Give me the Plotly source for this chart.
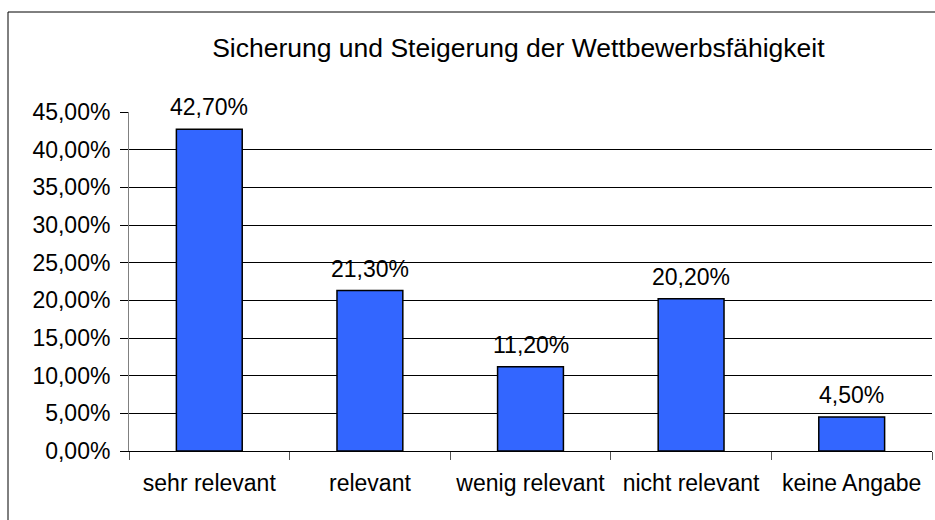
import plotly.graph_objects as go

categories = ["sehr relevant", "relevant", "wenig relevant", "nicht relevant", "keine Angabe"]
values = [42.7, 21.3, 11.2, 20.2, 4.5]
value_labels = ["42,70%", "21,30%", "11,20%", "20,20%", "4,50%"]
y_tickvals = [0, 5, 10, 15, 20, 25, 30, 35, 40, 45]
y_ticktext = ["0,00%", "5,00%", "10,00%", "15,00%", "20,00%", "25,00%", "30,00%", "35,00%", "40,00%", "45,00%"]
title_text = "Sicherung und Steigerung der Wettbewerbsfähigkeit"

W, H = 935, 520
L, R, T, B = 129, 3, 112, 69
pw, ph = W - L - R, H - T - B

font = "Liberation Sans, Arial, sans-serif"
fs = 23

fig = go.Figure()
fig.add_trace(go.Bar(
    x=categories, y=values,
    marker=dict(color="#3366FF", line=dict(color="black", width=1.5)),
    cliponaxis=False,
))

for c, v, t in zip(categories, values, value_labels):
    fig.add_annotation(x=c, y=v, text=t, showarrow=False, xref="x", yref="y",
                       yanchor="middle", yshift=22,
                       font=dict(family=font, size=fs, color="black"))

def px_to_paper_x(px):
    return (px - L) / pw

def px_to_paper_y(py):
    return (H - B - py) / ph

fig.update_layout(
    width=W, height=H,
    margin=dict(l=L, r=R, t=T, b=B, autoexpand=False),
    paper_bgcolor="white", plot_bgcolor="white",
    bargap=0.59,
    showlegend=False,
    title=dict(text=title_text, x=(L + pw / 2) / W - 0.013, xanchor="center",
               y=1 - 48 / H, yanchor="middle", yref="container",
               font=dict(family=font, size=26.5, color="black")),
    font=dict(family=font, size=fs, color="black"),
    xaxis=dict(type="category", tickson="boundaries", ticks="outside", ticklen=8,
               tickcolor="#555555", showgrid=False, showline=True, linecolor="black",
               linewidth=1, tickfont=dict(family=font, size=fs, color="black"),
               tickangle=0,
               ticklabelstandoff=11, range=[-0.5, 4.5]),
    yaxis=dict(range=[0, 45], tickvals=y_tickvals, ticktext=y_ticktext,
               ticks="outside", ticklen=8, tickcolor="black",
               showgrid=True, gridcolor="black", gridwidth=1,
               showline=True, linecolor="#808080", linewidth=1,
               zeroline=False,
               tickfont=dict(family=font, size=fs, color="black"),
               ticklabelstandoff=5),
    shapes=[
        dict(type="line", xref="paper", yref="paper",
             x0=px_to_paper_x(8), x1=px_to_paper_x(8),
             y0=px_to_paper_y(12), y1=px_to_paper_y(530),
             line=dict(color="black", width=1)),
        dict(type="line", xref="paper", yref="paper",
             x0=px_to_paper_x(8), x1=px_to_paper_x(940),
             y0=px_to_paper_y(12), y1=px_to_paper_y(12),
             line=dict(color="black", width=1)),
    ],
)

fig.write_html("out.html", config={"displayModeBar": False},
               post_script="document.body.style.margin='0';document.body.style.overflow='hidden';")
